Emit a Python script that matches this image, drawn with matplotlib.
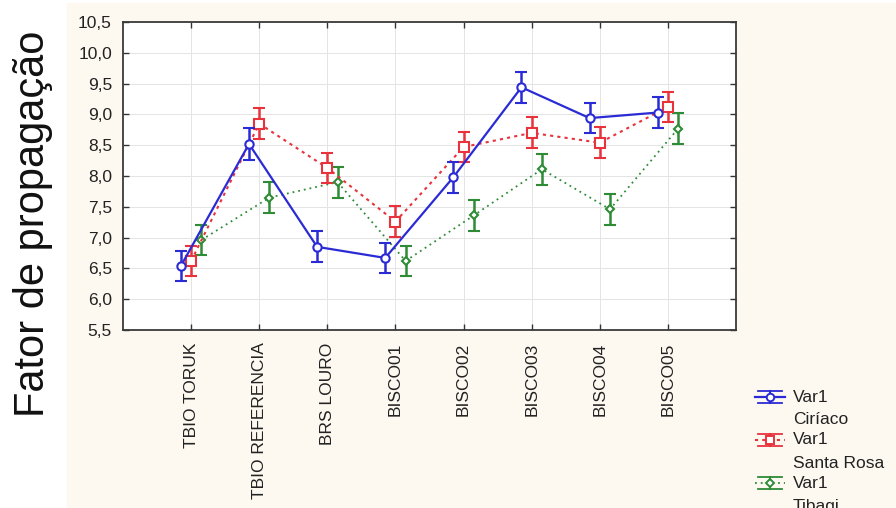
import matplotlib
matplotlib.use("Agg")
import matplotlib.pyplot as plt
from matplotlib.patches import Rectangle
import numpy as np

plt.rcParams['font.family'] = ['Liberation Sans', 'DejaVu Sans']

categories = ["TBIO TORUK", "TBIO REFERENCIA", "BRS LOURO", "BISCO01",
              "BISCO02", "BISCO03", "BISCO04", "BISCO05"]
series_names = ["Ciríaco", "Santa Rosa", "Tibagi"]
ciriaco = [6.54, 8.52, 6.85, 6.67, 7.98, 9.44, 8.94, 9.03]
santa_rosa = [6.62, 8.85, 8.13, 7.26, 8.47, 8.70, 8.54, 9.12]
tibagi = [6.96, 7.65, 7.90, 6.62, 7.36, 8.11, 7.46, 8.77]
err_ciriaco = [0.25, 0.26, 0.25, 0.25, 0.25, 0.25, 0.25, 0.25]
err_santa_rosa = [0.25, 0.25, 0.25, 0.25, 0.25, 0.25, 0.25, 0.25]
err_tibagi = [0.25, 0.25, 0.25, 0.25, 0.25, 0.25, 0.25, 0.25]
yticks = [5.5, 6.0, 6.5, 7.0, 7.5, 8.0, 8.5, 9.0, 9.5, 10.0, 10.5]

W, H = 896, 508
fig = plt.figure(figsize=(W / 100, H / 100), dpi=100, facecolor='white')
bg = Rectangle((67 / W, 0), 1 - 67 / W, 1 - 3 / H,
               transform=fig.transFigure, color='#FDF9F1', zorder=-10)
fig.patches.append(bg)

ax = fig.add_axes([123 / W, 1 - 330 / H, (736 - 123) / W, (330 - 22) / H])
ax.set_zorder(1)
ax.set_facecolor('white')

styles = [
    dict(color='#2B2BD6', ls='-', marker='o', ms=6, lw=1.6, off=-0.15),
    dict(color='#E8333C', ls=(0, (1.5, 2.0)), marker='s', ms=6.5, lw=1.5, off=0.0),
    dict(color='#2E8B36', ls=(0, (1, 2.2)), marker='D', ms=4.5, lw=1.3, off=0.15),
]
data = [ciriaco, santa_rosa, tibagi]
errs = [err_ciriaco, err_santa_rosa, err_tibagi]
x = np.arange(len(categories))

for vals, e, st, z in zip(data, errs, styles, [5, 4, 3]):
    xx = x + st['off']
    ax.errorbar(xx, vals, yerr=e, fmt='none', ecolor=st['color'],
                elinewidth=1.8, capsize=4, capthick=1.5, zorder=z)
    ax.plot(xx, vals, color=st['color'], ls=st['ls'], lw=st['lw'],
            marker=st['marker'], ms=st['ms'], mfc='white', mec=st['color'],
            mew=1.5, zorder=z + 0.5)

ax.set_xlim(-1, 8)
ax.set_ylim(5.5, 10.5)
ax.set_xticks(x)
ax.set_xticklabels(categories, rotation=90, fontsize=12.5, color='#222222')
ax.set_yticks(yticks)
ax.set_yticklabels([f"{v:.1f}".replace('.', ',') for v in yticks],
                   fontsize=12.5, color='#222222')
ax.tick_params(direction='in', length=4, width=1, color='#333333',
               top=True, right=True, pad=8)
ax.tick_params(axis='x', pad=9)
ax.grid(True, color='#E4E4E4', lw=0.7)
ax.set_axisbelow(True)
for s in ax.spines.values():
    s.set_color('#3A3A3A')
    s.set_linewidth(1.3)

fig.text(33 / W, 1 - 224 / H, "Fator de propagação", rotation=90,
         fontsize=30, ha='center', va='center', color='#111111', zorder=2)

# legend drawn manually in pixel coordinates
lax = fig.add_axes([0, 0, 1, 1])
lax.set_zorder(2)
lax.set_xlim(0, W)
lax.set_ylim(H, 0)
lax.axis('off')
lax.patch.set_alpha(0)
ys = [397, 440, 483]
for st, name, y in zip(styles, series_names, ys):
    c = st['color']
    lax.plot([755, 785], [y, y], color=c, ls=st['ls'], lw=st['lw'])
    lax.plot([758, 782], [y - 6, y - 6], color=c, lw=1.3)
    lax.plot([758, 782], [y + 6, y + 6], color=c, lw=1.3)
    lax.plot([770, 770], [y - 6, y + 6], color=c, lw=1.5)
    lax.plot([770], [y], marker=st['marker'], ms=st['ms'] * 0.9, mfc='white',
             mec=c, mew=1.4, ls='none')
    lax.text(793, y, "Var1", fontsize=12.5, va='center', ha='left', color='#222222')
    lax.text(793, y + 23, name, fontsize=12.5, va='center', ha='left', color='#222222')

fig.savefig("out.png", dpi=100, facecolor=fig.get_facecolor())
